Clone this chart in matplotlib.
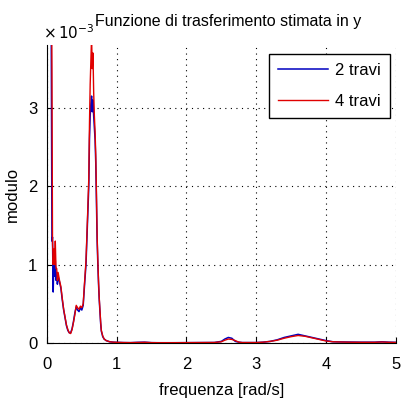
import matplotlib
matplotlib.use("Agg")
import matplotlib.pyplot as plt

# frequency axis [rad/s] and transfer function modulus (x 1e-3)
freq = [0.00, 0.02, 0.04, 0.06, 0.066, 0.072, 0.08, 0.09, 0.10, 0.11,
        0.12, 0.13, 0.14, 0.15, 0.16, 0.18, 0.20, 0.22, 0.24, 0.26,
        0.28, 0.30, 0.32, 0.34, 0.36, 0.38, 0.40, 0.42, 0.44, 0.46,
        0.48, 0.50, 0.52, 0.54, 0.56, 0.58, 0.60, 0.61, 0.62, 0.63,
        0.64, 0.65, 0.66, 0.67, 0.68, 0.69, 0.70, 0.71, 0.72, 0.73,
        0.74, 0.75, 0.76, 0.77, 0.78, 0.80, 0.82, 0.85, 0.90, 0.95,
        1.00, 1.10, 1.20, 1.30, 1.40, 1.50, 1.60, 1.80, 2.00, 2.20,
        2.40, 2.50, 2.55, 2.60, 2.65, 2.70, 2.75, 2.80, 3.00, 3.10,
        3.20, 3.30, 3.40, 3.50, 3.60, 3.70, 3.80, 3.90, 4.00, 4.10,
        4.30, 4.50, 4.70, 4.80, 4.90, 5.00]

mod_2travi = [9.0, 8.0, 6.0, 4.5, 2.9, 1.3, 1.35, 0.65, 1.1, 0.85,
              1.05, 0.8, 0.9, 0.75, 0.85, 0.78, 0.7, 0.55, 0.42, 0.32,
              0.22, 0.16, 0.13, 0.13, 0.18, 0.27, 0.38, 0.46, 0.42, 0.40,
              0.45, 0.42, 0.48, 0.75, 1.0, 1.5, 2.0, 2.6, 2.9, 3.05,
              3.15, 2.95, 3.1, 2.9, 2.75, 2.6, 2.3, 1.8, 1.3, 1.0,
              0.75, 0.55, 0.4, 0.25, 0.15, 0.08, 0.05, 0.03, 0.015, 0.01,
              0.008, 0.005, 0.004, 0.008, 0.01, 0.004, 0.003, 0.003, 0.004, 0.005,
              0.006, 0.02, 0.05, 0.07, 0.06, 0.02, 0.01, 0.005, 0.005, 0.01,
              0.02, 0.04, 0.07, 0.09, 0.11, 0.09, 0.07, 0.05, 0.03, 0.015,
              0.012, 0.01, 0.01, 0.015, 0.01, 0.008]

mod_4travi = [9.5, 8.5, 7.0, 5.5, 4.5, 3.5, 1.3, 1.0, 1.2, 1.0,
              1.3, 0.95, 0.95, 0.8, 0.9, 0.8, 0.72, 0.57, 0.43, 0.33,
              0.23, 0.17, 0.13, 0.12, 0.17, 0.26, 0.36, 0.48, 0.45, 0.43,
              0.47, 0.45, 0.5, 0.78, 1.05, 1.55, 2.1, 2.8, 3.3, 3.6,
              3.9, 3.5, 3.7, 3.2, 2.9, 2.7, 2.4, 1.9, 1.35, 1.05,
              0.78, 0.57, 0.42, 0.27, 0.16, 0.09, 0.05, 0.03, 0.015, 0.01,
              0.008, 0.005, 0.004, 0.006, 0.008, 0.004, 0.003, 0.003, 0.004, 0.005,
              0.006, 0.015, 0.035, 0.05, 0.045, 0.03, 0.01, 0.005, 0.005, 0.01,
              0.02, 0.035, 0.06, 0.08, 0.095, 0.085, 0.065, 0.045, 0.025, 0.015,
              0.01, 0.008, 0.008, 0.012, 0.008, 0.006]

plt.rcParams['font.family'] = ['Liberation Sans', 'DejaVu Sans']

fig = plt.figure(figsize=(4.01, 4.03), dpi=100)
ax = fig.add_axes([0.117, 0.149, 0.870, 0.739])

ax.plot(freq, mod_2travi, color='#0000c0', lw=1.1, label='2 travi')
ax.plot(freq, mod_4travi, color='#e00000', lw=1.0, label='4 travi')

ax.set_xlim(0, 5)
ax.set_ylim(0, 3.8)
ax.set_xticks([0, 1, 2, 3, 4, 5])
ax.set_yticks([0, 1, 2, 3])
ax.tick_params(direction='in', length=4, labelsize=12, pad=7,
               top=False, right=False)
ax.tick_params(axis='x', pad=10)
ax.grid(True, color='black', linestyle=(0, (1, 4)), linewidth=0.8)
for side in ['top', 'right']:
    ax.spines[side].set_visible(False)

ax.set_xlabel('frequenza [rad/s]', fontsize=12, labelpad=8)
ax.set_ylabel('modulo', fontsize=12, labelpad=6)
ax.set_title('Funzione di trasferimento stimata in y', fontsize=11.5, pad=14, x=0.52)
ax.text(-0.01, 1.01, r'$\times\,10^{-3}$', transform=ax.transAxes,
        fontsize=11, ha='left', va='bottom', family='DejaVu Sans')

leg = ax.legend(loc='upper right', bbox_to_anchor=(0.983, 0.97), fontsize=12,
                fancybox=False, framealpha=1, edgecolor='black',
                handlelength=3.0, handletextpad=0.4, borderpad=0.55,
                labelspacing=0.95, borderaxespad=0)
leg.get_frame().set_linewidth(1.0)

fig.savefig('out.png', dpi=100)
